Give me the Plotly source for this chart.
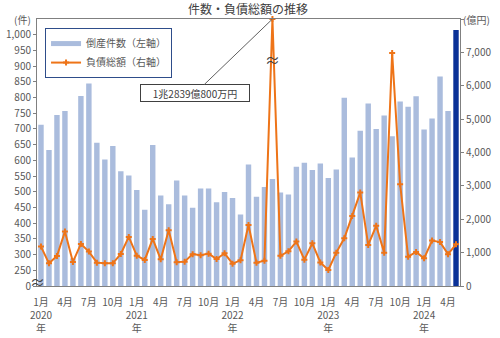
import plotly.graph_objects as go

# Monthly bankruptcy counts and total liabilities, Jan 2020 - May 2024
months = [f"{y}-{m:02d}" for y in range(2020, 2025) for m in range(1, 13)][:53]

counts = [
    713, 633, 744, 757, 288, 805, 845, 656, 603, 646, 565, 552,   # 2020
    506, 443, 649, 488, 460, 536, 488, 449, 510, 510, 467, 499,   # 2021
    480, 428, 587, 484, 515, 541, 498, 491, 580, 592, 569, 590,   # 2022
    544, 571, 799, 609, 694, 781, 700, 743, 677, 787, 771, 804,   # 2023
    698, 733, 867, 757, 1015,                                     # 2024
]

liabilities = [  # 億円
    1180, 680, 900, 1630, 720, 1260, 1030, 700, 680, 680, 960, 1470,
    910, 780, 1410, 800, 1670, 710, 730, 955, 920, 970, 810, 980,
    670, 770, 1830, 700, 760, 12839.08, 905, 1040, 1330, 790, 1280, 705,
    480, 1000, 1430, 2100, 2800, 1230, 1805, 1000, 6980, 3050, 880, 1020,
    830, 1360, 1315, 955, 1250,
]

tick_idx = list(range(0, 53, 3))
tick_text = [
    f"{int(months[i][5:])}月" + (f"<br>{months[i][:4]}<br>年" if months[i].endswith("-01") else "")
    for i in tick_idx
]

left_ticks = list(range(200, 1001, 50))
left_text = ["0"] + [f"{v:,}" for v in left_ticks[1:]]
right_ticks = list(range(0, 7001, 1000))
right_text = [f"{v:,}" for v in right_ticks]

Y2_TOP = 8000  # right axis is broken above this value


def on_broken_axis(v):
    return min(v, Y2_TOP)


def oku_label(v):
    whole = int(v)
    man = round((v - whole) * 10000)
    cho, oku = divmod(whole, 10000)
    return f"{cho}兆{oku}億{man}万円"


BAR = "#AABCDD"
NAVY = "#0A3197"
ORANGE = "#EE7418"
GRAY = "#595959"
FONT = "Liberation Sans Narrow, Noto Sans CJK JP, sans-serif"

# plot area in pixels
L, R, T, B = 37, 40, 19, 52
PW = 500 - L - R

x = list(range(len(months)))
bar_colors = [BAR] * (len(x) - 1) + [NAVY]

fig = go.Figure()
fig.add_trace(go.Bar(
    x=x, y=counts, marker=dict(color=bar_colors, line=dict(width=0)),
    showlegend=False, yaxis="y",
))
# legend entry drawn as a thick line for the bar series
fig.add_trace(go.Scatter(
    x=[None], y=[None], mode="lines", name="倒産件数（左軸）",
    line=dict(color=BAR, width=5), yaxis="y",
))
fig.add_trace(go.Scatter(
    x=x, y=[on_broken_axis(v) for v in liabilities], yaxis="y2",
    mode="lines+markers", name="負債総額（右軸）",
    line=dict(color=ORANGE, width=2),
    marker=dict(symbol="cross", size=5, color=ORANGE),
    cliponaxis=False,
))

peak = max(range(len(liabilities)), key=lambda i: liabilities[i])

fig.update_layout(
    width=500, height=338,
    margin=dict(l=L, r=R, t=T, b=B, autoexpand=False),
    paper_bgcolor="white", plot_bgcolor="white",
    font=dict(family=FONT, size=10, color=GRAY),
    bargap=0.32,
    title=dict(text="件数・負債総額の推移", x=0.496, xanchor="center",
               y=0.97, yanchor="middle", yref="container",
               font=dict(size=12, color="#404040")),
    xaxis=dict(range=[-0.5, 52.5], tickvals=tick_idx, ticktext=tick_text,
               tickangle=0, showline=True, linecolor="#808080", linewidth=1,
               mirror=True, showgrid=False, zeroline=False, ticks="",
               ticklabelstandoff=7, automargin=False),
    yaxis=dict(range=[200, 1050], tickvals=left_ticks, ticktext=left_text,
               showline=True, linecolor="#808080", linewidth=1, ticks="outside",
               ticklen=3, tickcolor="#808080", showgrid=False, zeroline=False,
               automargin=False),
    yaxis2=dict(range=[0, Y2_TOP], overlaying="y", side="right",
                tickvals=right_ticks + [Y2_TOP], ticktext=right_text + [""],
                showline=True, linecolor="#808080", linewidth=1, ticks="outside",
                ticklen=3, tickcolor="#808080", showgrid=False, zeroline=False,
                automargin=False),
    legend=dict(x=0.019, y=0.966, xanchor="left", yanchor="top",
                bgcolor="white", bordercolor="#2E4D8A", borderwidth=1,
                font=dict(size=10, color=GRAY), itemwidth=30,
                tracegroupgap=0),
)

# unit labels above each value axis
fig.add_annotation(x=(22 - L) / PW, y=1.0, xref="paper", yref="paper",
                   xanchor="center", yanchor="middle",
                   text="(件)", showarrow=False, font=dict(size=10, color=GRAY))
fig.add_annotation(x=(476 - L) / PW, y=1.0, xref="paper", yref="paper",
                   xanchor="center", yanchor="middle",
                   text="(億円)", showarrow=False, font=dict(size=10, color=GRAY))

# callout for the off-scale month
fig.add_annotation(
    x=peak, y=on_broken_axis(liabilities[peak]), xref="x", yref="y2",
    text=oku_label(liabilities[peak]), showarrow=True, arrowhead=0,
    arrowwidth=1, arrowcolor="#606060", ax=-77, ay=74, standoff=0,
    bordercolor="#404040", borderwidth=1, bgcolor="white", width=104,
    height=12, borderpad=2, font=dict(size=10, color="#404040"),
)
# axis break marks
fig.add_annotation(x=peak, y=6800, xref="x", yref="y2", text="≈",
                   xanchor="center", yanchor="middle",
                   showarrow=False, font=dict(size=15, color="#404040"))
fig.add_annotation(x=0, y=214, xref="paper", yref="y", text="≈",
                   xanchor="center", yanchor="middle",
                   showarrow=False, font=dict(size=15, color="#404040"))

fig.write_html("out.html")
